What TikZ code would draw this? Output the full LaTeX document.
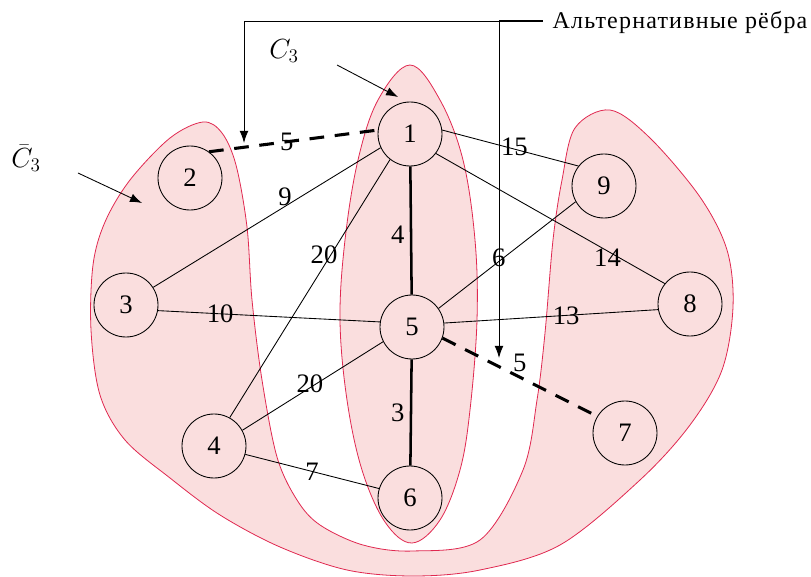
\documentclass[tikz,border=0pt]{standalone}
\usepackage{fontspec}
\setmainfont{Liberation Serif}
\newfontfamily\altfont[LetterSpace=5]{Liberation Serif}
\usetikzlibrary{arrows.meta}
\definecolor{rosefill}{RGB}{250,222,222}
\definecolor{roseline}{RGB}{224,40,80}
\begin{document}
\begin{tikzpicture}[x=0.75pt,y=-0.75pt,>={Latex[length=9pt,width=6.5pt]},line join=round,
	vert/.style={circle,draw,line width=0.65pt,minimum size=48pt,inner sep=0pt,font=\fontsize{20}{20}\selectfont},
	wt/.style={inner sep=0pt,font=\fontsize{20}{20}\selectfont},
	spine/.style={line width=1.9pt},
	altedge/.style={line width=2.3pt,dash pattern=on 11pt off 8pt},
	zone/.style={fill=rosefill,draw=roseline,line width=0.6pt}]
	\useasboundingbox (0,0) rectangle (811,577);
	\draw[zone] plot[smooth cycle,tension=0.55] coordinates {(203,122) (222,133) (236,165) (247,227) (252,300) (262,380) (277,457) (297,500) (320,525) (363,545) (413,551) (480,540) (523,470) (537,400) (545,333) (553,240) (562,180) (575,128) (610,110) (650,138) (700,197) (727,250) (733,307) (722,370) (690,425) (640,480) (560,545) (480,570) (413,576) (347,570) (280,547) (220,515) (170,478) (125,440) (100,395) (91,330) (93,265) (105,222) (130,180) (170,138)};
	\draw[zone] plot[smooth cycle,tension=0.6] coordinates {(410,65) (440,100) (463,160) (475,240) (477,320) (470,410) (460,470) (440,520) (412,543) (385,522) (362,470) (347,400) (340,320) (345,240) (358,160) (378,100)};
	\node[vert] (n1) at (410,134) {1};
	\node[vert] (n2) at (190,178) {2};
	\node[vert] (n3) at (126,305) {3};
	\node[vert] (n4) at (214,446) {4};
	\node[vert] (n5) at (412,327) {5};
	\node[vert] (n6) at (410,498) {6};
	\node[vert] (n7) at (625,433) {7};
	\node[vert] (n8) at (690,304) {8};
	\node[vert] (n9) at (604,186) {9};
	\draw[line width=0.65pt] (n1.205) -- (n3.33) node[wt,pos=0.42,yshift=7pt] {9};
	\draw[line width=0.65pt] (n1.232) -- (n4.61) node[wt,pos=0.37,xshift=-5pt] {20};
	\draw[line width=0.65pt] (n1.7) -- (n9.142) node[wt,pos=0.53,yshift=2pt] {15};
	\draw[line width=0.65pt] (n1.323) -- (n8.141) node[wt,pos=0.75,yshift=-5pt] {14};
	\draw[line width=0.65pt] (n9.209) -- (n5.35) node[wt,pos=0.56,yshift=3pt] {6};
	\draw[line width=0.65pt] (n3.350) -- (n5.171) node[wt,pos=0.28] {10};
	\draw[line width=0.65pt] (n5.7) -- (n8.190) node[wt,pos=0.57] {13};
	\draw[line width=0.65pt] (n4.29) -- (n5.207) node[wt,pos=0.48,yshift=3pt] {20};
	\draw[line width=0.65pt] (n4.345) -- (n6.163) node[wt,pos=0.5] {7};
	\draw[spine] (n1) -- (n5) node[wt,pos=0.53,xshift=-10pt] {4};
	\draw[spine] (n5) -- (n6) node[wt,pos=0.5,xshift=-10pt] {3};
	\draw[altedge] (n2.54) -- (n1.173) node[wt,pos=0.46] {5};
	\draw[altedge] (n5.340) -- (n7.149) node[wt,pos=0.5,yshift=11pt] {5};
	\node[anchor=base west,inner xsep=7pt,inner ysep=0pt,font=\altfont\fontsize{18}{18}\selectfont] (altlbl) at (543,29) {Альтернативные рёбра};
	\coordinate (brk) at (499,21);
	\coordinate (tip2) at (244,143);
	\coordinate (tip7) at (499,358);
	\draw[line width=2.2pt] (brk) -- (brk -| altlbl.west);
	\draw[->,line width=0.65pt] (brk) -| (tip2);
	\draw[->,line width=0.65pt] (brk) -- (tip7);
	\node[wt,font=\fontsize{21}{21}\selectfont] (c3) at (284,51) {$C_3$};
	\node[wt,font=\fontsize{21}{21}\selectfont] (c3bar) at (26,158) {$\bar{C}_3$};
	\coordinate (c3s) at (337,65);
	\coordinate (c3e) at (398,97);
	\coordinate (c3bs) at (78,173);
	\coordinate (c3be) at (142,203);
	\draw[->,line width=0.65pt] (c3s) -- (c3e);
	\draw[->,line width=0.65pt] (c3bs) -- (c3be);
\end{tikzpicture}
\end{document}
